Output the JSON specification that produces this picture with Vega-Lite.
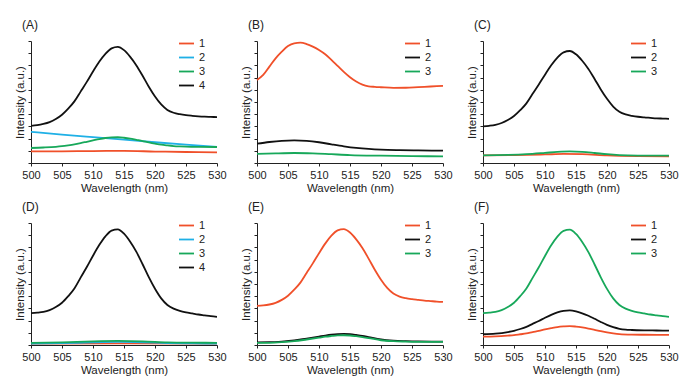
{
"$schema": "https://vega.github.io/schema/vega-lite/v6.json",
"padding": {"left": 14, "top": 19, "right": 5, "bottom": 0},
"background": "white",
"config": {
  "font": "Liberation Sans",
  "view": {"stroke": null},
  "axis": {"grid": false, "domainColor": "#222", "tickColor": "#222", "tickSize": 3, "labelFont": "Liberation Sans", "labelFontSize": 11, "labelColor": "#222", "labelPadding": 3, "labelFlush": false, "titleFont": "Liberation Sans", "titleFontSize": 11.5, "titleFontWeight": "normal", "titleColor": "#222", "titlePadding": 2},
  "legend": {"orient": "none", "legendX": 147, "legendY": -6, "symbolType": "stroke", "symbolStrokeWidth": 2, "symbolSize": 225, "labelFont": "Liberation Sans", "labelFontSize": 11, "labelColor": "#222", "rowPadding": -4.5, "title": null},
  "title": {"font": "Liberation Sans", "fontSize": 12, "fontWeight": "normal", "color": "#222", "anchor": "start", "frame": "group", "dx": -9, "offset": 3},
  "line": {"strokeWidth": 1.8, "interpolate": "monotone"}
},
"datasets": {
"A": [
{"x":500,"y":0.95,"s":"1"},{"x":505,"y":0.96,"s":"1"},{"x":510,"y":0.98,"s":"1"},{"x":515,"y":0.99,"s":"1"},{"x":520,"y":0.94,"s":"1"},{"x":525,"y":0.9,"s":"1"},{"x":530,"y":0.87,"s":"1"},
{"x":500,"y":2.55,"s":"2"},{"x":505,"y":2.33,"s":"2"},{"x":510,"y":2.12,"s":"2"},{"x":515,"y":1.91,"s":"2"},{"x":520,"y":1.7,"s":"2"},{"x":525,"y":1.5,"s":"2"},{"x":530,"y":1.31,"s":"2"},
{"x":500,"y":1.23,"s":"3"},{"x":502,"y":1.27,"s":"3"},{"x":504,"y":1.33,"s":"3"},{"x":505,"y":1.38,"s":"3"},{"x":506,"y":1.45,"s":"3"},{"x":507,"y":1.53,"s":"3"},{"x":508,"y":1.63,"s":"3"},{"x":509,"y":1.74,"s":"3"},{"x":510,"y":1.85,"s":"3"},{"x":511,"y":1.96,"s":"3"},{"x":512,"y":2.05,"s":"3"},{"x":513,"y":2.1,"s":"3"},{"x":514,"y":2.11,"s":"3"},{"x":515,"y":2.07,"s":"3"},{"x":516,"y":2.0,"s":"3"},{"x":517,"y":1.9,"s":"3"},{"x":518,"y":1.8,"s":"3"},{"x":519,"y":1.69,"s":"3"},{"x":520,"y":1.59,"s":"3"},{"x":521,"y":1.5,"s":"3"},{"x":522,"y":1.44,"s":"3"},{"x":523,"y":1.39,"s":"3"},{"x":524,"y":1.36,"s":"3"},{"x":525,"y":1.34,"s":"3"},{"x":527,"y":1.32,"s":"3"},{"x":530,"y":1.31,"s":"3"},
{"x":500,"y":3.05,"s":"4"},{"x":501,"y":3.1,"s":"4"},{"x":502,"y":3.2,"s":"4"},{"x":503,"y":3.35,"s":"4"},{"x":504,"y":3.6,"s":"4"},{"x":505,"y":3.95,"s":"4"},{"x":506,"y":4.45,"s":"4"},{"x":507,"y":5.05,"s":"4"},{"x":508,"y":5.85,"s":"4"},{"x":509,"y":6.65,"s":"4"},{"x":510,"y":7.5,"s":"4"},{"x":511,"y":8.3,"s":"4"},{"x":512,"y":8.95,"s":"4"},{"x":513,"y":9.4,"s":"4"},{"x":514,"y":9.52,"s":"4"},{"x":515,"y":9.25,"s":"4"},{"x":516,"y":8.7,"s":"4"},{"x":517,"y":8.0,"s":"4"},{"x":518,"y":7.15,"s":"4"},{"x":519,"y":6.25,"s":"4"},{"x":520,"y":5.45,"s":"4"},{"x":521,"y":4.8,"s":"4"},{"x":522,"y":4.35,"s":"4"},{"x":523,"y":4.12,"s":"4"},{"x":524,"y":4.0,"s":"4"},{"x":525,"y":3.92,"s":"4"},{"x":526,"y":3.87,"s":"4"},{"x":527,"y":3.83,"s":"4"},{"x":528,"y":3.8,"s":"4"},{"x":529,"y":3.78,"s":"4"},{"x":530,"y":3.76,"s":"4"}
],
"B": [
{"x":500,"y":6.81,"s":"1"},{"x":501,"y":7.22,"s":"1"},{"x":502,"y":7.9,"s":"1"},{"x":503,"y":8.58,"s":"1"},{"x":504,"y":9.13,"s":"1"},{"x":505,"y":9.59,"s":"1"},{"x":506,"y":9.81,"s":"1"},{"x":507,"y":9.86,"s":"1"},{"x":508,"y":9.75,"s":"1"},{"x":509,"y":9.54,"s":"1"},{"x":510,"y":9.26,"s":"1"},{"x":511,"y":8.91,"s":"1"},{"x":512,"y":8.45,"s":"1"},{"x":513,"y":7.96,"s":"1"},{"x":514,"y":7.47,"s":"1"},{"x":515,"y":7.03,"s":"1"},{"x":516,"y":6.68,"s":"1"},{"x":517,"y":6.43,"s":"1"},{"x":518,"y":6.29,"s":"1"},{"x":519,"y":6.24,"s":"1"},{"x":520,"y":6.21,"s":"1"},{"x":522,"y":6.16,"s":"1"},{"x":524,"y":6.17,"s":"1"},{"x":526,"y":6.22,"s":"1"},{"x":528,"y":6.27,"s":"1"},{"x":530,"y":6.32,"s":"1"},
{"x":500,"y":1.58,"s":"2"},{"x":502,"y":1.72,"s":"2"},{"x":504,"y":1.82,"s":"2"},{"x":506,"y":1.86,"s":"2"},{"x":508,"y":1.82,"s":"2"},{"x":510,"y":1.7,"s":"2"},{"x":512,"y":1.53,"s":"2"},{"x":514,"y":1.37,"s":"2"},{"x":516,"y":1.24,"s":"2"},{"x":518,"y":1.15,"s":"2"},{"x":520,"y":1.09,"s":"2"},{"x":523,"y":1.05,"s":"2"},{"x":526,"y":1.03,"s":"2"},{"x":530,"y":1.01,"s":"2"},
{"x":500,"y":0.74,"s":"3"},{"x":503,"y":0.79,"s":"3"},{"x":506,"y":0.82,"s":"3"},{"x":509,"y":0.79,"s":"3"},{"x":512,"y":0.72,"s":"3"},{"x":515,"y":0.65,"s":"3"},{"x":520,"y":0.6,"s":"3"},{"x":525,"y":0.57,"s":"3"},{"x":530,"y":0.54,"s":"3"}
],
"C": [
{"x":500,"y":0.63,"s":"1"},{"x":505,"y":0.65,"s":"1"},{"x":510,"y":0.7,"s":"1"},{"x":513,"y":0.74,"s":"1"},{"x":516,"y":0.72,"s":"1"},{"x":520,"y":0.62,"s":"1"},{"x":525,"y":0.56,"s":"1"},{"x":530,"y":0.54,"s":"1"},
{"x":500,"y":3.0,"s":"2"},{"x":501,"y":3.05,"s":"2"},{"x":502,"y":3.13,"s":"2"},{"x":503,"y":3.28,"s":"2"},{"x":504,"y":3.52,"s":"2"},{"x":505,"y":3.85,"s":"2"},{"x":506,"y":4.33,"s":"2"},{"x":507,"y":4.89,"s":"2"},{"x":508,"y":5.67,"s":"2"},{"x":509,"y":6.44,"s":"2"},{"x":510,"y":7.24,"s":"2"},{"x":511,"y":8.01,"s":"2"},{"x":512,"y":8.64,"s":"2"},{"x":513,"y":9.07,"s":"2"},{"x":514,"y":9.18,"s":"2"},{"x":515,"y":8.91,"s":"2"},{"x":516,"y":8.38,"s":"2"},{"x":517,"y":7.71,"s":"2"},{"x":518,"y":6.89,"s":"2"},{"x":519,"y":6.03,"s":"2"},{"x":520,"y":5.26,"s":"2"},{"x":521,"y":4.63,"s":"2"},{"x":522,"y":4.2,"s":"2"},{"x":523,"y":3.98,"s":"2"},{"x":524,"y":3.87,"s":"2"},{"x":525,"y":3.79,"s":"2"},{"x":526,"y":3.74,"s":"2"},{"x":527,"y":3.7,"s":"2"},{"x":528,"y":3.66,"s":"2"},{"x":529,"y":3.64,"s":"2"},{"x":530,"y":3.62,"s":"2"},
{"x":500,"y":0.63,"s":"3"},{"x":504,"y":0.66,"s":"3"},{"x":507,"y":0.72,"s":"3"},{"x":510,"y":0.83,"s":"3"},{"x":512,"y":0.91,"s":"3"},{"x":514,"y":0.95,"s":"3"},{"x":516,"y":0.91,"s":"3"},{"x":518,"y":0.82,"s":"3"},{"x":520,"y":0.72,"s":"3"},{"x":522,"y":0.65,"s":"3"},{"x":525,"y":0.61,"s":"3"},{"x":530,"y":0.6,"s":"3"}
],
"D": [
{"x":500,"y":0.12,"s":"1"},{"x":515,"y":0.13,"s":"1"},{"x":530,"y":0.12,"s":"1"},
{"x":500,"y":0.12,"s":"2"},{"x":505,"y":0.15,"s":"2"},{"x":510,"y":0.22,"s":"2"},{"x":514,"y":0.25,"s":"2"},{"x":518,"y":0.22,"s":"2"},{"x":522,"y":0.16,"s":"2"},{"x":526,"y":0.13,"s":"2"},{"x":530,"y":0.12,"s":"2"},
{"x":500,"y":0.18,"s":"3"},{"x":505,"y":0.22,"s":"3"},{"x":510,"y":0.3,"s":"3"},{"x":514,"y":0.33,"s":"3"},{"x":518,"y":0.3,"s":"3"},{"x":522,"y":0.22,"s":"3"},{"x":526,"y":0.19,"s":"3"},{"x":530,"y":0.18,"s":"3"},
{"x":500,"y":2.62,"s":"4"},{"x":501,"y":2.65,"s":"4"},{"x":502,"y":2.71,"s":"4"},{"x":503,"y":2.86,"s":"4"},{"x":504,"y":3.11,"s":"4"},{"x":505,"y":3.46,"s":"4"},{"x":506,"y":4.0,"s":"4"},{"x":507,"y":4.63,"s":"4"},{"x":508,"y":5.52,"s":"4"},{"x":509,"y":6.39,"s":"4"},{"x":510,"y":7.32,"s":"4"},{"x":511,"y":8.19,"s":"4"},{"x":512,"y":8.91,"s":"4"},{"x":513,"y":9.38,"s":"4"},{"x":514,"y":9.48,"s":"4"},{"x":515,"y":9.12,"s":"4"},{"x":516,"y":8.46,"s":"4"},{"x":517,"y":7.63,"s":"4"},{"x":518,"y":6.62,"s":"4"},{"x":519,"y":5.56,"s":"4"},{"x":520,"y":4.61,"s":"4"},{"x":521,"y":3.82,"s":"4"},{"x":522,"y":3.28,"s":"4"},{"x":523,"y":2.98,"s":"4"},{"x":524,"y":2.8,"s":"4"},{"x":525,"y":2.68,"s":"4"},{"x":526,"y":2.59,"s":"4"},{"x":527,"y":2.5,"s":"4"},{"x":528,"y":2.43,"s":"4"},{"x":529,"y":2.36,"s":"4"},{"x":530,"y":2.31,"s":"4"}
],
"E": [
{"x":500,"y":3.2,"s":"1"},{"x":501,"y":3.24,"s":"1"},{"x":502,"y":3.32,"s":"1"},{"x":503,"y":3.46,"s":"1"},{"x":504,"y":3.7,"s":"1"},{"x":505,"y":4.04,"s":"1"},{"x":506,"y":4.53,"s":"1"},{"x":507,"y":5.11,"s":"1"},{"x":508,"y":5.9,"s":"1"},{"x":509,"y":6.69,"s":"1"},{"x":510,"y":7.52,"s":"1"},{"x":511,"y":8.31,"s":"1"},{"x":512,"y":8.96,"s":"1"},{"x":513,"y":9.39,"s":"1"},{"x":514,"y":9.5,"s":"1"},{"x":515,"y":9.22,"s":"1"},{"x":516,"y":8.66,"s":"1"},{"x":517,"y":7.95,"s":"1"},{"x":518,"y":7.08,"s":"1"},{"x":519,"y":6.17,"s":"1"},{"x":520,"y":5.35,"s":"1"},{"x":521,"y":4.68,"s":"1"},{"x":522,"y":4.22,"s":"1"},{"x":523,"y":3.97,"s":"1"},{"x":524,"y":3.84,"s":"1"},{"x":525,"y":3.76,"s":"1"},{"x":526,"y":3.7,"s":"1"},{"x":527,"y":3.64,"s":"1"},{"x":528,"y":3.6,"s":"1"},{"x":529,"y":3.56,"s":"1"},{"x":530,"y":3.53,"s":"1"},
{"x":500,"y":0.22,"s":"2"},{"x":502,"y":0.23,"s":"2"},{"x":504,"y":0.28,"s":"2"},{"x":506,"y":0.37,"s":"2"},{"x":508,"y":0.53,"s":"2"},{"x":510,"y":0.69,"s":"2"},{"x":511,"y":0.77,"s":"2"},{"x":512,"y":0.84,"s":"2"},{"x":513,"y":0.89,"s":"2"},{"x":514,"y":0.91,"s":"2"},{"x":515,"y":0.88,"s":"2"},{"x":516,"y":0.82,"s":"2"},{"x":517,"y":0.75,"s":"2"},{"x":518,"y":0.65,"s":"2"},{"x":520,"y":0.45,"s":"2"},{"x":522,"y":0.35,"s":"2"},{"x":524,"y":0.31,"s":"2"},{"x":526,"y":0.29,"s":"2"},{"x":530,"y":0.28,"s":"2"},
{"x":500,"y":0.17,"s":"3"},{"x":502,"y":0.18,"s":"3"},{"x":504,"y":0.23,"s":"3"},{"x":506,"y":0.31,"s":"3"},{"x":508,"y":0.45,"s":"3"},{"x":510,"y":0.6,"s":"3"},{"x":511,"y":0.68,"s":"3"},{"x":512,"y":0.74,"s":"3"},{"x":513,"y":0.79,"s":"3"},{"x":514,"y":0.8,"s":"3"},{"x":515,"y":0.78,"s":"3"},{"x":516,"y":0.72,"s":"3"},{"x":517,"y":0.65,"s":"3"},{"x":518,"y":0.57,"s":"3"},{"x":520,"y":0.39,"s":"3"},{"x":522,"y":0.31,"s":"3"},{"x":524,"y":0.28,"s":"3"},{"x":526,"y":0.26,"s":"3"},{"x":530,"y":0.25,"s":"3"}
],
"F": [
{"x":500,"y":0.69,"s":"1"},{"x":502,"y":0.71,"s":"1"},{"x":504,"y":0.77,"s":"1"},{"x":505,"y":0.81,"s":"1"},{"x":506,"y":0.88,"s":"1"},{"x":507,"y":0.95,"s":"1"},{"x":508,"y":1.06,"s":"1"},{"x":509,"y":1.16,"s":"1"},{"x":510,"y":1.28,"s":"1"},{"x":511,"y":1.38,"s":"1"},{"x":512,"y":1.47,"s":"1"},{"x":513,"y":1.52,"s":"1"},{"x":514,"y":1.55,"s":"1"},{"x":515,"y":1.51,"s":"1"},{"x":516,"y":1.44,"s":"1"},{"x":517,"y":1.35,"s":"1"},{"x":518,"y":1.24,"s":"1"},{"x":519,"y":1.13,"s":"1"},{"x":520,"y":1.03,"s":"1"},{"x":521,"y":0.95,"s":"1"},{"x":522,"y":0.89,"s":"1"},{"x":524,"y":0.85,"s":"1"},{"x":526,"y":0.84,"s":"1"},{"x":530,"y":0.83,"s":"1"},
{"x":500,"y":0.88,"s":"2"},{"x":502,"y":0.93,"s":"2"},{"x":504,"y":1.06,"s":"2"},{"x":505,"y":1.16,"s":"2"},{"x":506,"y":1.31,"s":"2"},{"x":507,"y":1.49,"s":"2"},{"x":508,"y":1.73,"s":"2"},{"x":509,"y":1.97,"s":"2"},{"x":510,"y":2.23,"s":"2"},{"x":511,"y":2.47,"s":"2"},{"x":512,"y":2.67,"s":"2"},{"x":513,"y":2.8,"s":"2"},{"x":514,"y":2.84,"s":"2"},{"x":515,"y":2.76,"s":"2"},{"x":516,"y":2.6,"s":"2"},{"x":517,"y":2.4,"s":"2"},{"x":518,"y":2.15,"s":"2"},{"x":519,"y":1.89,"s":"2"},{"x":520,"y":1.65,"s":"2"},{"x":521,"y":1.46,"s":"2"},{"x":522,"y":1.33,"s":"2"},{"x":523,"y":1.26,"s":"2"},{"x":524,"y":1.23,"s":"2"},{"x":526,"y":1.2,"s":"2"},{"x":528,"y":1.19,"s":"2"},{"x":530,"y":1.18,"s":"2"},
{"x":500,"y":2.62,"s":"3"},{"x":501,"y":2.65,"s":"3"},{"x":502,"y":2.71,"s":"3"},{"x":503,"y":2.86,"s":"3"},{"x":504,"y":3.11,"s":"3"},{"x":505,"y":3.46,"s":"3"},{"x":506,"y":4.0,"s":"3"},{"x":507,"y":4.63,"s":"3"},{"x":508,"y":5.5,"s":"3"},{"x":509,"y":6.37,"s":"3"},{"x":510,"y":7.3,"s":"3"},{"x":511,"y":8.17,"s":"3"},{"x":512,"y":8.88,"s":"3"},{"x":513,"y":9.35,"s":"3"},{"x":514,"y":9.45,"s":"3"},{"x":515,"y":9.1,"s":"3"},{"x":516,"y":8.44,"s":"3"},{"x":517,"y":7.61,"s":"3"},{"x":518,"y":6.6,"s":"3"},{"x":519,"y":5.55,"s":"3"},{"x":520,"y":4.6,"s":"3"},{"x":521,"y":3.82,"s":"3"},{"x":522,"y":3.28,"s":"3"},{"x":523,"y":2.98,"s":"3"},{"x":524,"y":2.8,"s":"3"},{"x":525,"y":2.68,"s":"3"},{"x":526,"y":2.59,"s":"3"},{"x":527,"y":2.5,"s":"3"},{"x":528,"y":2.43,"s":"3"},{"x":529,"y":2.36,"s":"3"},{"x":530,"y":2.31,"s":"3"}
]
},
"resolve": {"scale": {"color": "independent"}, "legend": {"color": "independent"}},
"spacing": 7,
"vconcat": [
{"hconcat": [
  {"width": 186, "height": 122, "title": "(A)", "data": {"name": "A"}, "mark": "line",
   "encoding": {"x": {"field": "x", "type": "quantitative", "scale": {"domain": [500, 530]}, "axis": {"values": [500,505,510,515,520,525,530], "title": "Wavelength (nm)"}},
     "y": {"field": "y", "type": "quantitative", "scale": {"domain": [0, 10]}, "axis": {"values": [0,1,2,3,4,5,6,7,8,9,10], "labels": false, "title": "Intensity (a.u.)"}},
     "color": {"field": "s", "type": "nominal", "scale": {"domain": ["1","2","3","4"], "range": ["#f0502a","#1fb0e6","#17a85a","#111111"]}}}},
  {"width": 186, "height": 122, "title": "(B)", "data": {"name": "B"}, "mark": "line",
   "encoding": {"x": {"field": "x", "type": "quantitative", "scale": {"domain": [500, 530]}, "axis": {"values": [500,505,510,515,520,525,530], "title": "Wavelength (nm)"}},
     "y": {"field": "y", "type": "quantitative", "scale": {"domain": [0, 10]}, "axis": {"values": [0,1,2,3,4,5,6,7,8,9,10], "labels": false, "title": "Intensity (a.u.)"}},
     "color": {"field": "s", "type": "nominal", "scale": {"domain": ["1","2","3"], "range": ["#f0502a","#111111","#17a85a"]}}}},
  {"width": 186, "height": 122, "title": "(C)", "data": {"name": "C"}, "mark": "line",
   "encoding": {"x": {"field": "x", "type": "quantitative", "scale": {"domain": [500, 530]}, "axis": {"values": [500,505,510,515,520,525,530], "title": "Wavelength (nm)"}},
     "y": {"field": "y", "type": "quantitative", "scale": {"domain": [0, 10]}, "axis": {"values": [0,1,2,3,4,5,6,7,8,9,10], "labels": false, "title": "Intensity (a.u.)"}},
     "color": {"field": "s", "type": "nominal", "scale": {"domain": ["1","2","3"], "range": ["#f0502a","#111111","#17a85a"]}}}}
 ],
 "spacing": 40, "bounds": "flush",
 "resolve": {"scale": {"color": "independent"}, "legend": {"color": "independent"}}},
{"hconcat": [
  {"width": 186, "height": 122, "title": "(D)", "data": {"name": "D"}, "mark": "line",
   "encoding": {"x": {"field": "x", "type": "quantitative", "scale": {"domain": [500, 530]}, "axis": {"values": [500,505,510,515,520,525,530], "title": "Wavelength (nm)"}},
     "y": {"field": "y", "type": "quantitative", "scale": {"domain": [0, 10]}, "axis": {"values": [0,1,2,3,4,5,6,7,8,9,10], "labels": false, "title": "Intensity (a.u.)"}},
     "color": {"field": "s", "type": "nominal", "scale": {"domain": ["1","2","3","4"], "range": ["#f0502a","#1fb0e6","#17a85a","#111111"]}}}},
  {"width": 186, "height": 122, "title": "(E)", "data": {"name": "E"}, "mark": "line",
   "encoding": {"x": {"field": "x", "type": "quantitative", "scale": {"domain": [500, 530]}, "axis": {"values": [500,505,510,515,520,525,530], "title": "Wavelength (nm)"}},
     "y": {"field": "y", "type": "quantitative", "scale": {"domain": [0, 10]}, "axis": {"values": [0,1,2,3,4,5,6,7,8,9,10], "labels": false, "title": "Intensity (a.u.)"}},
     "color": {"field": "s", "type": "nominal", "scale": {"domain": ["1","2","3"], "range": ["#f0502a","#111111","#17a85a"]}}}},
  {"width": 186, "height": 122, "title": "(F)", "data": {"name": "F"}, "mark": "line",
   "encoding": {"x": {"field": "x", "type": "quantitative", "scale": {"domain": [500, 530]}, "axis": {"values": [500,505,510,515,520,525,530], "title": "Wavelength (nm)"}},
     "y": {"field": "y", "type": "quantitative", "scale": {"domain": [0, 10]}, "axis": {"values": [0,1,2,3,4,5,6,7,8,9,10], "labels": false, "title": "Intensity (a.u.)"}},
     "color": {"field": "s", "type": "nominal", "scale": {"domain": ["1","2","3"], "range": ["#f0502a","#111111","#17a85a"]}}}}
 ],
 "spacing": 40, "bounds": "flush",
 "resolve": {"scale": {"color": "independent"}, "legend": {"color": "independent"}}}
]
}
